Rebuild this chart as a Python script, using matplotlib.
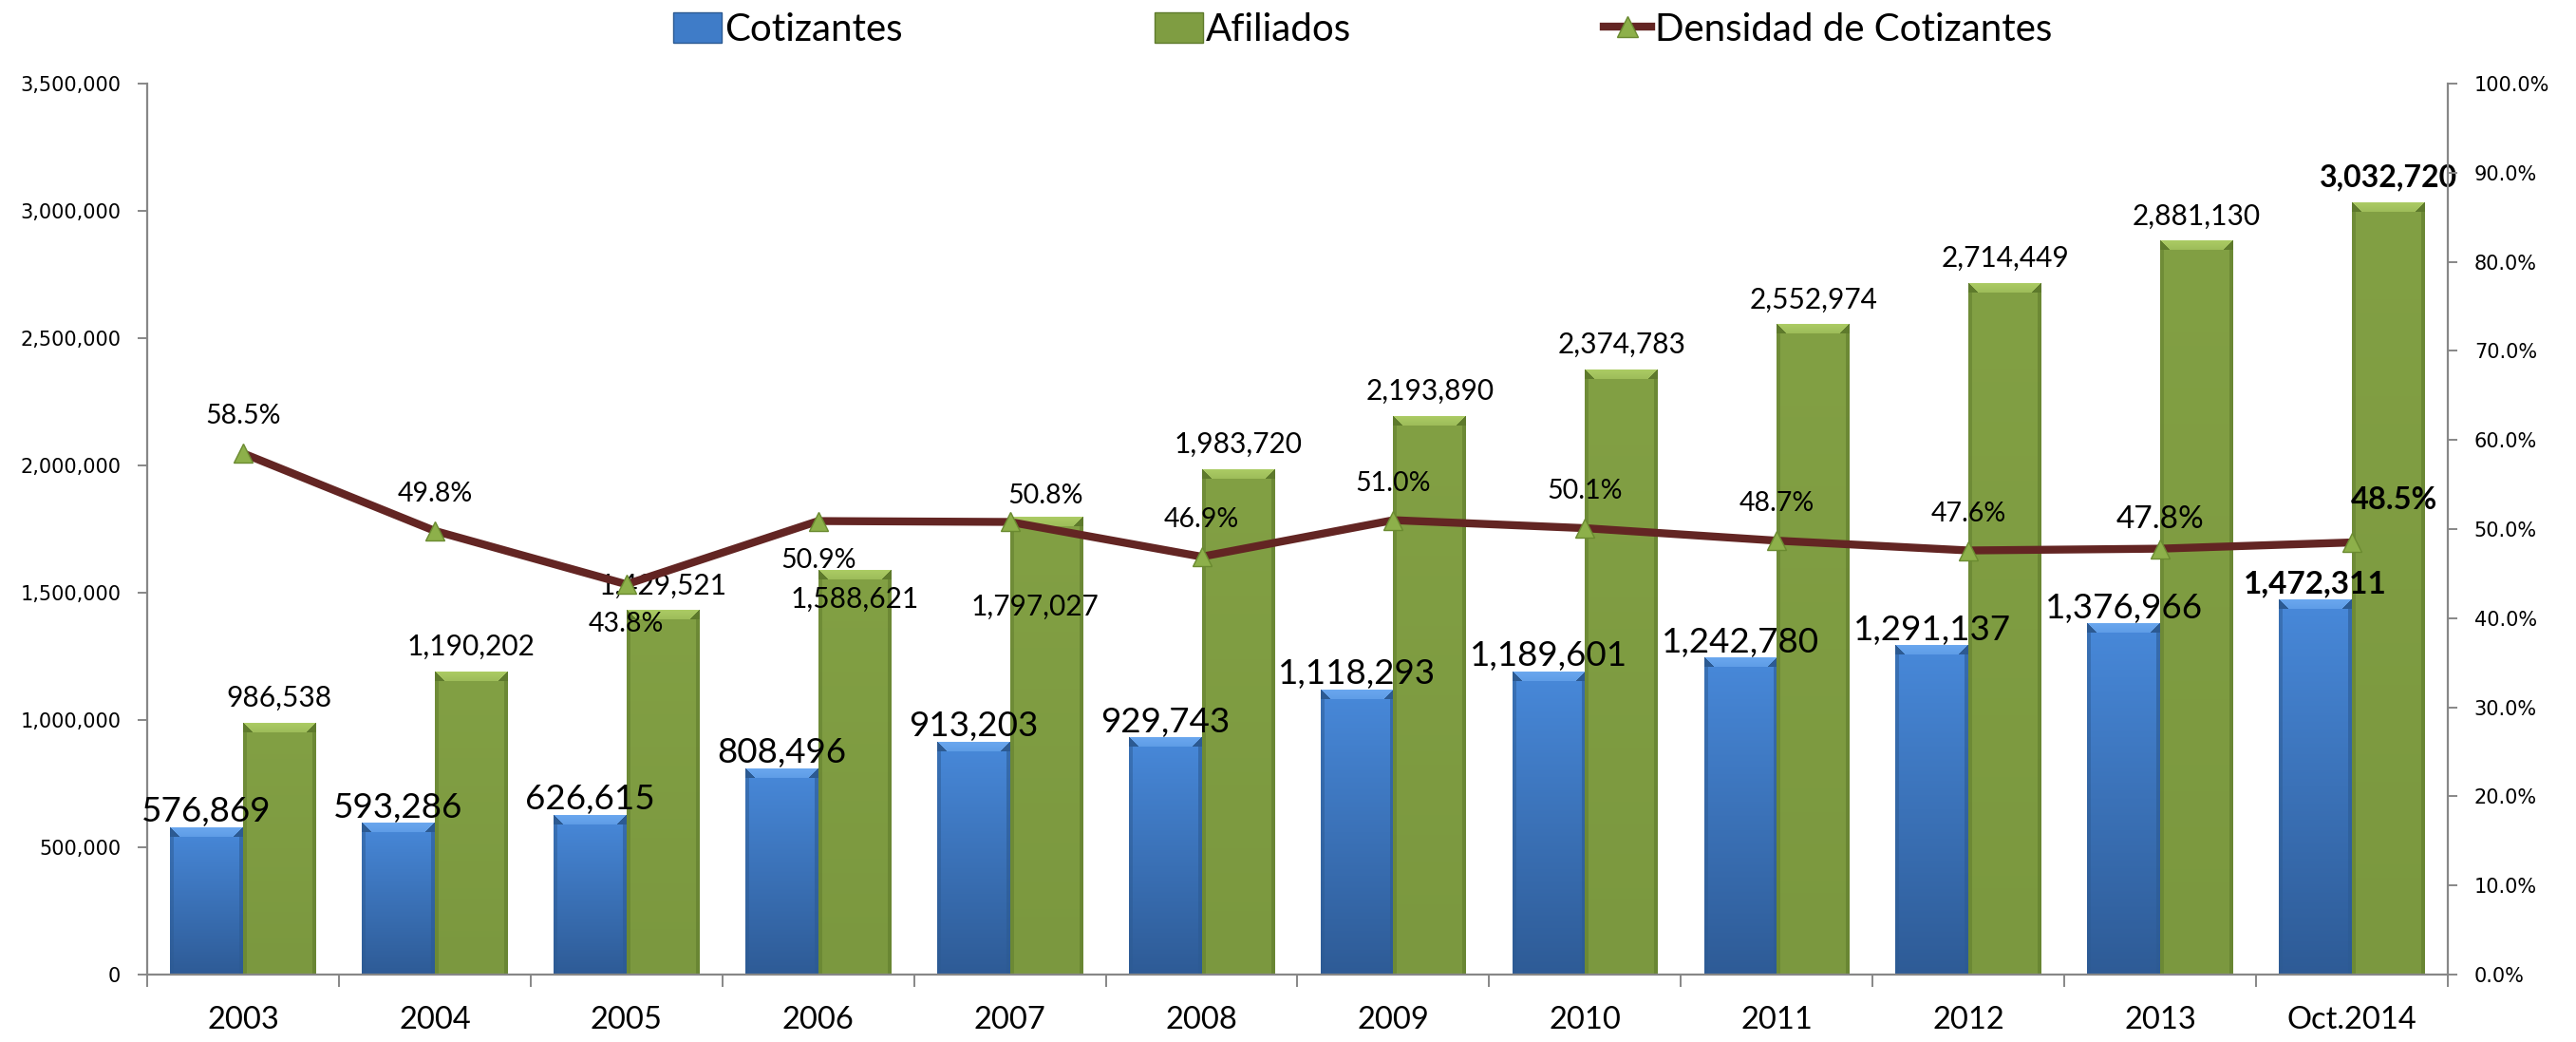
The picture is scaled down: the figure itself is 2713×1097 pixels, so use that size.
import numpy as np
import matplotlib
matplotlib.use("Agg")
import matplotlib.pyplot as plt
from matplotlib.lines import Line2D
from matplotlib.patches import Patch

# ---------------- data ----------------
categories = ['2003', '2004', '2005', '2006', '2007', '2008', '2009', '2010',
              '2011', '2012', '2013', 'Oct.2014']
cotizantes = [576869, 593286, 626615, 808496, 913203, 929743, 1118293,
              1189601, 1242780, 1291137, 1376966, 1472311]
afiliados = [986538, 1190202, 1429521, 1588621, 1797027, 1983720, 2193890,
             2374783, 2552974, 2714449, 2881130, 3032720]
densidad = [58.5, 49.8, 43.8, 50.9, 50.8, 46.9, 51.0, 50.1, 48.7, 47.6, 47.8, 48.5]
left_ticks = [0, 500000, 1000000, 1500000, 2000000, 2500000, 3000000, 3500000]
right_ticks = [0, 10, 20, 30, 40, 50, 60, 70, 80, 90, 100]
series_names = ['Cotizantes', 'Afiliados', 'Densidad de Cotizantes']

# ---------------- style ----------------
LBL_FONT = ['Lato', 'DejaVu Sans']
TICK_FONT = ['DejaVu Sans']
GRAY = '#878787'
LINE_C = '#632523'
MARK_C = '#8DB04A'
MARK_E = '#6A8A30'
BLUE = '#3F7CC8'
GREEN = '#7F9D42'

W_PX, H_PX, DPI = 2713, 1097, 100
fig = plt.figure(figsize=(W_PX / DPI, H_PX / DPI), dpi=DPI)
ax = fig.add_axes([155 / W_PX, 71 / H_PX, (2578 - 155) / W_PX, (1026 - 88) / H_PX])
ax2 = ax.twinx()

x = np.arange(len(categories))
bw = 0.38
bars_c = ax.bar(x - bw / 2, cotizantes, bw, color=BLUE, zorder=2, linewidth=0)
bars_a = ax.bar(x + bw / 2, afiliados, bw, color=GREEN, zorder=2, linewidth=0)

ax.set_xlim(-0.5, len(categories) - 0.5)
ax.set_ylim(0, 3500000)
ax2.set_ylim(0, 100)


def hexrgb(h):
    h = h.lstrip('#')
    return np.array([int(h[i:i + 2], 16) for i in (0, 2, 4)], float) / 255.0


def shade(rect, top, bot, bevel, side):
    x0, w, h = rect.get_x(), rect.get_width(), rect.get_height()
    p0 = ax.transData.transform((x0, 0))
    p1 = ax.transData.transform((x0 + w, h))
    Wp = max(int(round(p1[0] - p0[0])), 2)
    Hp = max(int(round(p1[1] - p0[1])), 2)
    t = np.linspace(0, 1, Hp)[:, None, None]
    arr = (1 - t) * hexrgb(top) + t * hexrgb(bot)
    arr = np.repeat(arr, Wp, axis=1)
    b = min(10, Hp // 2)
    bev = hexrgb(bevel)
    sd = hexrgb(side)
    for r in range(b):
        arr[r, :, :] = bev * (1 - 0.35 * r / b) + arr[r, :, :] * 0.35 * r / b
        arr[r, :r + 1, :] = sd
        arr[r, Wp - r - 1:, :] = sd
    e = 4
    arr[b:, :e, :] = arr[b:, :e, :] * 0.5 + sd * 0.5
    arr[b:, Wp - e:, :] = arr[b:, Wp - e:, :] * 0.4 + sd * 0.6
    ax.imshow(arr, extent=(x0, x0 + w, 0, h), aspect='auto',
              interpolation='nearest', origin='upper', zorder=2.1)


for r in bars_c:
    shade(r, '#4889DA', '#2E5B96', '#6AA7EE', '#2C5A92')
for r in bars_a:
    shade(r, '#82A044', '#7B983F', '#ABCB64', '#5E7A2C')

ax.set_xlim(-0.5, len(categories) - 0.5)
ax.set_ylim(0, 3500000)

# density line
ax2.plot(x, densidad, color=LINE_C, lw=6, zorder=3, solid_capstyle='butt',
         marker='^', ms=15, mfc=MARK_C, mec=MARK_E, mew=1)

# ---------------- axes styling ----------------
for s in ['top', 'right']:
    ax.spines[s].set_visible(False)
for s in ['top', 'left', 'bottom']:
    ax2.spines[s].set_visible(False)
for sp in [ax.spines['left'], ax.spines['bottom'], ax2.spines['right']]:
    sp.set_color(GRAY)
    sp.set_linewidth(1.6)

ax.set_yticks(left_ticks)
ax.set_yticklabels([f'{v:,}' for v in left_ticks], fontfamily=TICK_FONT, fontsize=15)
ax.tick_params(axis='y', direction='out', length=7, width=1.4, color=GRAY, pad=13)

ax2.set_yticks(right_ticks)
ax2.set_yticklabels([f'{v:.1f}%' for v in right_ticks], fontfamily=TICK_FONT, fontsize=15)
ax2.tick_params(axis='y', direction='out', length=7, width=1.4, color=GRAY, pad=13)

ax.set_xticks(x)
ax.set_xticklabels(categories, fontfamily=LBL_FONT, fontsize=23.5)
ax.tick_params(axis='x', which='major', length=0, pad=24)
ax.set_xticks(np.arange(-0.5, len(categories)), minor=True)
ax.tick_params(axis='x', which='minor', direction='out', length=9, width=1.4, color=GRAY)

# ---------------- labels ----------------
last = len(categories) - 1
for i in range(len(categories)):
    bold = 'bold' if i == last else 'normal'
    ax.annotate(f'{cotizantes[i]:,}', (x[i] - bw / 2, cotizantes[i]),
                xytext=(0, 12), textcoords='offset points', ha='center', va='center',
                fontsize=24 if i == last else 26.5, fontfamily=LBL_FONT,
                fontweight=bold, zorder=5)

    dx, dy = 0, 19
    if i == 3:
        dy = -22
    if i == 4:
        dx, dy = -9, -68
    ax.annotate(f'{afiliados[i]:,}', (x[i] + bw / 2, afiliados[i]),
                xytext=(dx, dy), textcoords='offset points', ha='center', va='center',
                fontsize=23 if i == last else 21.5, fontfamily=LBL_FONT,
                fontweight=bold, zorder=5)

    dx, dy = 0, 28
    fs = 20.5
    if i in (2, 3):
        dy = -30
    if i == 4:
        dx, dy = 27, 20
    if i == 10:
        dy, fs = 22, 24
    if i == last:
        dx, dy, fs = 32, 32, 23.5
    ax2.annotate(f'{densidad[i]:.1f}%', (x[i], densidad[i]),
                 xytext=(dx, dy), textcoords='offset points', ha='center', va='center',
                 fontsize=fs, fontfamily=LBL_FONT, fontweight=bold, zorder=6)

# ---------------- legend ----------------
handles = [
    Patch(facecolor=BLUE, edgecolor='#2C5A92', linewidth=1),
    Patch(facecolor=GREEN, edgecolor='#5E7A2C', linewidth=1),
    Line2D([], [], color=LINE_C, lw=6, marker='^', ms=16, mfc=MARK_C, mec=MARK_E),
]
fig.legend(handles, series_names, loc='center', bbox_to_anchor=(0.529, 0.971),
           ncol=3, frameon=False, prop={'family': LBL_FONT, 'size': 29},
           handlelength=1.25, handleheight=0.85, handletextpad=0.08, columnspacing=6.6)

fig.savefig('out.png', dpi=DPI)
